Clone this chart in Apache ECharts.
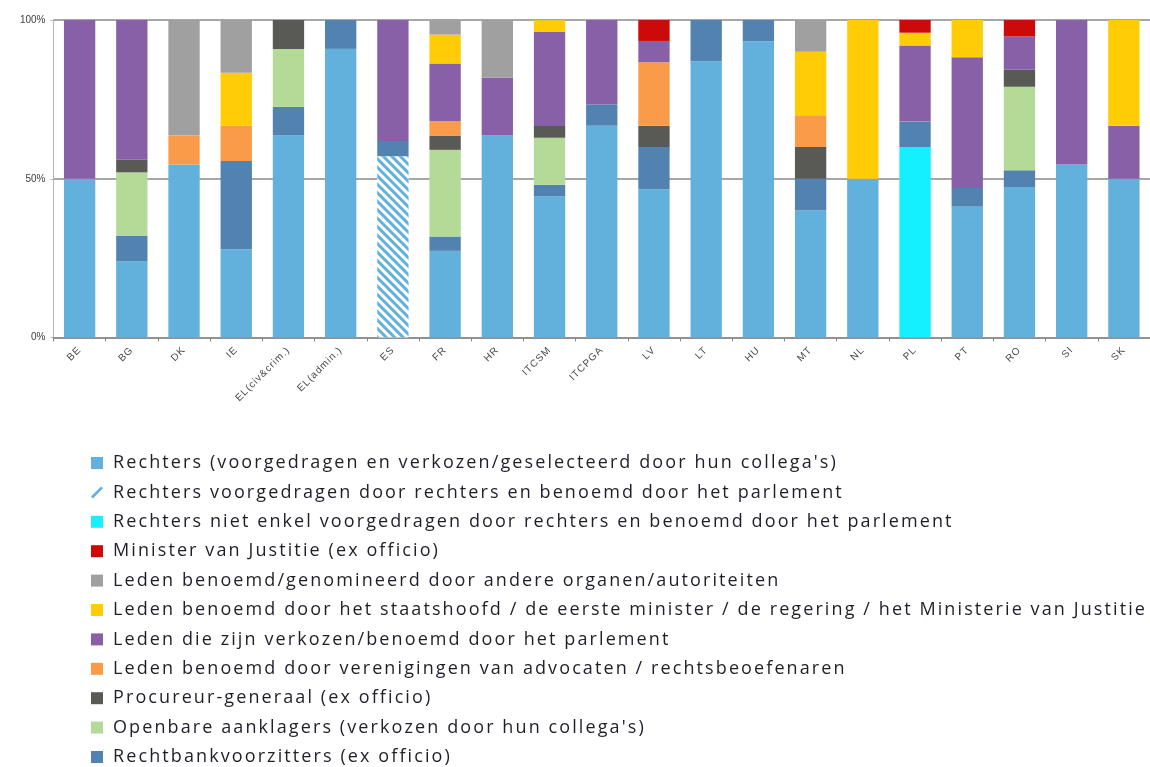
<!DOCTYPE html>
<html>
<head>
<meta charset="utf-8">
<script src="https://cdn.jsdelivr.net/npm/echarts@6/dist/echarts.min.js"></script>
<style>
html,body{margin:0;padding:0;background:#fff;}
#chart{width:1150px;height:767px;}
</style>
</head>
<body>
<div id="chart"></div>
<script>
const categories = ['BE','BG','DK','IE','EL(civ&crim.)','EL(admin.)','ES','FR','HR','ITCSM','ITCPGA','LV','LT','HU','MT','NL','PL','PT','RO','SI','SK'];
const yTicks = [0, 50, 100];

// shares (%) per category, bottom to top of the stack
const rechters     = [50,24,54.5,27.8,63.6,90.9,0,27.3,63.6,44.4,66.7,46.7,87,93.3,40,50,0,41.2,47.4,54.5,50];
const rechtersParl = [0,0,0,0,0,0,57.1,0,0,0,0,0,0,0,0,0,0,0,0,0,0];
const rechtersNiet = [0,0,0,0,0,0,0,0,0,0,0,0,0,0,0,0,60,0,0,0,0];
const voorzitters  = [0,8,0,27.8,9.1,9.1,4.8,4.5,0,3.7,6.7,13.3,13,6.7,10,0,8,5.9,5.3,0,0];
const aanklagers   = [0,20,0,0,18.2,0,0,27.3,0,14.8,0,0,0,0,0,0,0,0,26.3,0,0];
const procureur    = [0,4,0,0,9.1,0,0,4.5,0,3.7,0,6.7,0,0,10,0,0,0,5.3,0,0];
const advocaten    = [0,0,9.1,11.1,0,0,0,4.5,0,0,0,20,0,0,10,0,0,0,0,0,0];
const parlement    = [50,44,0,0,0,0,38.1,18.2,18.2,29.6,26.7,6.7,0,0,0,0,24,41.2,10.5,45.5,16.7];
const staatshoofd  = [0,0,0,16.7,0,0,0,9.1,0,3.7,0,0,0,0,20,50,4,11.8,0,0,33.3];
const andere       = [0,0,36.4,16.7,0,0,0,4.5,18.2,0,0,0,0,0,10,0,0,0,0,0,0];
const minister     = [0,0,0,0,0,0,0,0,0,0,0,6.7,0,0,0,0,4,0,5.3,0,0];

const N = {
  rechters: "Rechters (voorgedragen en verkozen/geselecteerd door hun collega's)",
  rechtersParl: "Rechters voorgedragen door rechters en benoemd door het parlement",
  rechtersNiet: "Rechters niet enkel voorgedragen door rechters en benoemd door het parlement",
  minister: "Minister van Justitie (ex officio)",
  andere: "Leden benoemd/genomineerd door andere organen/autoriteiten",
  staatshoofd: "Leden benoemd door het staatshoofd / de eerste minister / de regering / het Ministerie van Justitie",
  parlement: "Leden die zijn verkozen/benoemd door het parlement",
  advocaten: "Leden benoemd door verenigingen van advocaten / rechtsbeoefenaren",
  procureur: "Procureur-generaal (ex officio)",
  aanklagers: "Openbare aanklagers (verkozen door hun collega's)",
  voorzitters: "Rechtbankvoorzitters (ex officio)"
};

// widen spacing of legend / category text like the reference rendering
(function () {
  const proto = CanvasRenderingContext2D.prototype;
  const orig = proto.fillText;
  proto.fillText = function (t, x, y, m) {
    const prev = this.letterSpacing;
    const f = this.font || '';
    if (f.indexOf('Open Sans') >= 0) this.letterSpacing = '2.1px';
    else if (f.indexOf('Liberation Sans') >= 0) this.letterSpacing = '1px';
    else this.letterSpacing = '0px';
    if (m === undefined) orig.call(this, t, x, y); else orig.call(this, t, x, y, m);
    this.letterSpacing = prev;
  };
})();

const LB = '#62b0dc';
function bar(name, data, color, extra) {
  return Object.assign({
    name: name, type: 'bar', stack: 'total', data: data,
    barCategoryGap: '40%',
    itemStyle: { color: color },
    emphasis: { disabled: true }
  }, extra || {});
}

const series = [
  bar(N.rechters, rechters, LB),
  bar(N.rechtersParl, rechtersParl, '#ffffff', {
    itemStyle: {
      color: '#ffffff',
      decal: { symbol: 'rect', symbolSize: 1, color: LB, dashArrayX: [1, 0], dashArrayY: [3, 3], rotation: Math.PI / 4 }
    }
  }),
  bar(N.rechtersNiet, rechtersNiet, '#14f0ff'),
  bar(N.voorzitters, voorzitters, '#5283b0'),
  bar(N.aanklagers, aanklagers, '#b4da98'),
  bar(N.procureur, procureur, '#595a56'),
  bar(N.advocaten, advocaten, '#f99b48'),
  bar(N.parlement, parlement, '#8860a8'),
  bar(N.staatshoofd, staatshoofd, '#ffcc05'),
  bar(N.andere, andere, '#a0a0a0'),
  bar(N.minister, minister, '#cc0a0a')
];

const legendOrder = ['rechters','rechtersParl','rechtersNiet','minister','andere','staatshoofd','parlement','advocaten','procureur','aanklagers','voorzitters'];
const legendData = legendOrder.map(k => {
  if (k === 'rechtersParl') {
    return { name: N[k], icon: 'path://M2,11 L10,3 L11.5,4.5 L3.5,12.5 Z', itemStyle: { color: LB, decal: { symbol: 'none' } } };
  }
  return { name: N[k], icon: 'rect' };
});

const chart = echarts.init(document.getElementById('chart'), null, { renderer: 'canvas' });
chart.setOption({
  animation: false,
  backgroundColor: '#ffffff',
  grid: { left: 53.5, right: -8.5, top: 20, bottom: 429.5, containLabel: false },
  xAxis: {
    type: 'category',
    data: categories,
    axisLine: { lineStyle: { color: '#8a8a8a', width: 1.5 } },
    axisTick: { show: true, length: 4, lineStyle: { color: '#8a8a8a' } },
    axisLabel: { rotate: 45, fontSize: 10, color: '#4a4a4a', fontFamily: 'Liberation Sans', margin: 11, interval: 0 }
  },
  yAxis: {
    type: 'value', min: yTicks[0], max: yTicks[2], interval: yTicks[1] - yTicks[0],
    axisLine: { show: true, lineStyle: { color: '#b4b4b4', width: 1 } },
    axisTick: { show: true, length: 3, lineStyle: { color: '#b4b4b4' } },
    axisLabel: { formatter: '{value}%', fontSize: 10, color: '#404040', fontFamily: 'Arial', margin: 8 },
    splitLine: { lineStyle: { color: '#8a8a8a', width: 1.5 } }
  },
  legend: {
    orient: 'vertical',
    left: 91, top: 453, bottom: 0,
    padding: 0,
    itemWidth: 12, itemHeight: 12,
    itemGap: 9.4,
    selectedMode: false,
    data: legendData,
    textStyle: { fontFamily: 'Open Sans', fontSize: 18, color: '#1f1f2a', lineHeight: 20, padding: [0,0,0,5] }
  },
  series: series
});
</script>
</body>
</html>
